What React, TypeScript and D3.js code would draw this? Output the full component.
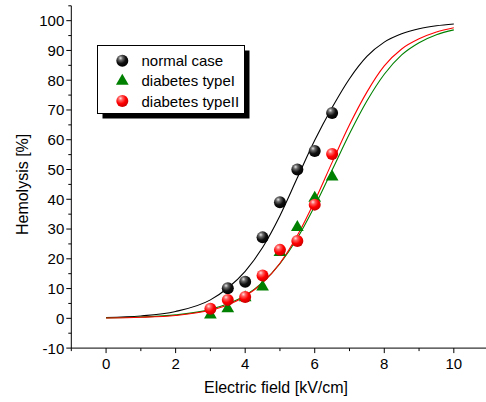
import React from "react";
import * as d3 from "d3";

// ---- data ----
const xTicks = [0, 2, 4, 6, 8, 10];
const yTicks = [-10, 0, 10, 20, 30, 40, 50, 60, 70, 80, 90, 100];

const normalX = [3.5, 4.0, 4.5, 5.0, 5.5, 6.0, 6.5];
const normalY = [10.1, 12.3, 27.2, 39.0, 50.0, 56.2, 69.0];

const type1X = [3.0, 3.5, 4.0, 4.5, 5.0, 5.5, 6.0, 6.5];
const type1Y = [1.2, 3.3, 7.0, 10.6, 22.2, 30.6, 40.4, 47.5];

const type2X = [3.0, 3.5, 4.0, 4.5, 5.0, 5.5, 6.0, 6.5];
const type2Y = [3.2, 6.2, 7.2, 14.4, 23.0, 26.0, 38.2, 55.2];

// fitted curves
const fitX = [0, 1, 2, 3, 3.5, 4, 4.5, 5, 5.5, 6, 6.5, 7, 7.5, 8, 8.5, 9, 9.5, 10];
const fitNormal = [0.3, 0.8, 2.3, 6.2, 10.2, 15.8, 23.8, 34.5, 47.2, 59.8, 70.8, 80.5, 88.0, 92.8, 95.6, 97.3, 98.3, 98.9];
const fitType2 = [0.12, 0.34, 0.97, 2.7, 4.5, 7.4, 11.9, 18.5, 27.8, 39.4, 52.4, 65.0, 76.0, 84.8, 90.5, 93.9, 96.2, 97.6];
const fitType1 = [0.16, 0.43, 1.15, 3.0, 4.9, 7.7, 12.1, 18.4, 26.9, 37.7, 49.8, 62.0, 73.0, 82.0, 88.5, 92.6, 95.3, 96.9];

const legendLabels = ["normal case", "diabetes typeI", "diabetes typeII"];

const W = 486;
const H = 402;

export default function App() {
  const x = d3.scaleLinear().domain([-1, 11]).range([71.3, 488.6]);
  const y = d3.scaleLinear().domain([-10, 105]).range([348.1, 5.8]);

  const line = d3
    .line<[number, number]>()
    .x((d) => x(d[0]))
    .y((d) => y(d[1]))
    .curve(d3.curveMonotoneX);

  const toPts = (ys: number[]) => fitX.map((v, i) => [v, ys[i]] as [number, number]);

  const xMinor = d3.range(-1, 12, 1).filter((v) => !xTicks.includes(v));
  const yMinor = d3.range(-5, 106, 10);

  const font = "Arial, 'Liberation Sans', sans-serif";
  const axisX0 = x(-1);
  const axisY0 = y(-10);

  const tri = d3.symbol().type(d3.symbolTriangle).size(70)();

  return (
    <svg
      width={W}
      height={H}
      style={{ position: "absolute", left: 0, top: 0, background: "#fff" }}
      fontFamily={font}
    >
      <defs>
        <radialGradient id="gBlack" cx="0.38" cy="0.32" r="0.7" fx="0.35" fy="0.28">
          <stop offset="0" stopColor="#e8e8e8" />
          <stop offset="0.25" stopColor="#6a6a6a" />
          <stop offset="0.6" stopColor="#111" />
          <stop offset="1" stopColor="#000" />
        </radialGradient>
        <radialGradient id="gRed" cx="0.38" cy="0.32" r="0.7" fx="0.35" fy="0.28">
          <stop offset="0" stopColor="#ffe0e0" />
          <stop offset="0.25" stopColor="#ff6060" />
          <stop offset="0.6" stopColor="#ff0000" />
          <stop offset="1" stopColor="#c80000" />
        </radialGradient>
      </defs>

      {/* curves */}
      <path d={line(toPts(fitNormal)) || ""} fill="none" stroke="#000" strokeWidth={1.1} />
      <path d={line(toPts(fitType1)) || ""} fill="none" stroke="#008000" strokeWidth={1.1} />
      <path d={line(toPts(fitType2)) || ""} fill="none" stroke="#ff0000" strokeWidth={1.1} />

      {/* points */}
      {normalX.map((v, i) => (
        <circle key={"n" + i} cx={x(v)} cy={y(normalY[i])} r={6} fill="url(#gBlack)" />
      ))}
      {type1X.map((v, i) => (
        <path key={"t" + i} d={tri || ""} transform={`translate(${x(v)},${y(type1Y[i])})`} fill="#008000" />
      ))}
      {type2X.map((v, i) => (
        <circle key={"r" + i} cx={x(v)} cy={y(type2Y[i])} r={6} fill="url(#gRed)" />
      ))}

      {/* axes */}
      <line x1={axisX0} x2={axisX0} y1={y(105)} y2={axisY0} stroke="#000" strokeWidth={1} />
      <line x1={axisX0} x2={x(11)} y1={axisY0} y2={axisY0} stroke="#000" strokeWidth={1} />

      {yTicks.map((t) => (
        <g key={"yt" + t}>
          <line x1={axisX0 - 5} x2={axisX0} y1={y(t)} y2={y(t)} stroke="#000" />
          <text x={axisX0 - 7} y={y(t)} dy="0.36em" textAnchor="end" fontSize={15}>
            {t}
          </text>
        </g>
      ))}
      {yMinor.map((t) => (
        <line key={"ym" + t} x1={axisX0 - 3} x2={axisX0} y1={y(t)} y2={y(t)} stroke="#000" />
      ))}
      {xTicks.map((t) => (
        <g key={"xt" + t}>
          <line x1={x(t)} x2={x(t)} y1={axisY0} y2={axisY0 + 5} stroke="#000" />
          <text x={x(t)} y={axisY0 + 21} textAnchor="middle" fontSize={15}>
            {t}
          </text>
        </g>
      ))}
      {xMinor.map((t) => (
        <line key={"xm" + t} x1={x(t)} x2={x(t)} y1={axisY0} y2={axisY0 + 3} stroke="#000" />
      ))}

      {/* axis titles */}
      <text x={276} y={393} textAnchor="middle" fontSize={16}>
        Electric field [kV/cm]
      </text>
      <text
        transform={`translate(22,${y(45)}) rotate(-90)`}
        textAnchor="middle"
        dy="0.35em"
        fontSize={16}
      >
        Hemolysis [%]
      </text>

      {/* legend */}
      <rect x={102.5} y={50.5} width={147} height={68} fill="#000" />
      <rect x={97.5} y={45.5} width={147} height={68} fill="#fff" stroke="#000" strokeWidth={1} />
      <circle cx={122.3} cy={60.7} r={6} fill="url(#gBlack)" />
      <path d={tri || ""} transform={`translate(122.3,81)`} fill="#008000" />
      <circle cx={122.3} cy={101} r={6} fill="url(#gRed)" />
      {legendLabels.map((l, i) => (
        <text key={l} x={141.5} y={60.7 + i * 20.2} dy="0.36em" fontSize={15}>
          {l}
        </text>
      ))}
    </svg>
  );
}
